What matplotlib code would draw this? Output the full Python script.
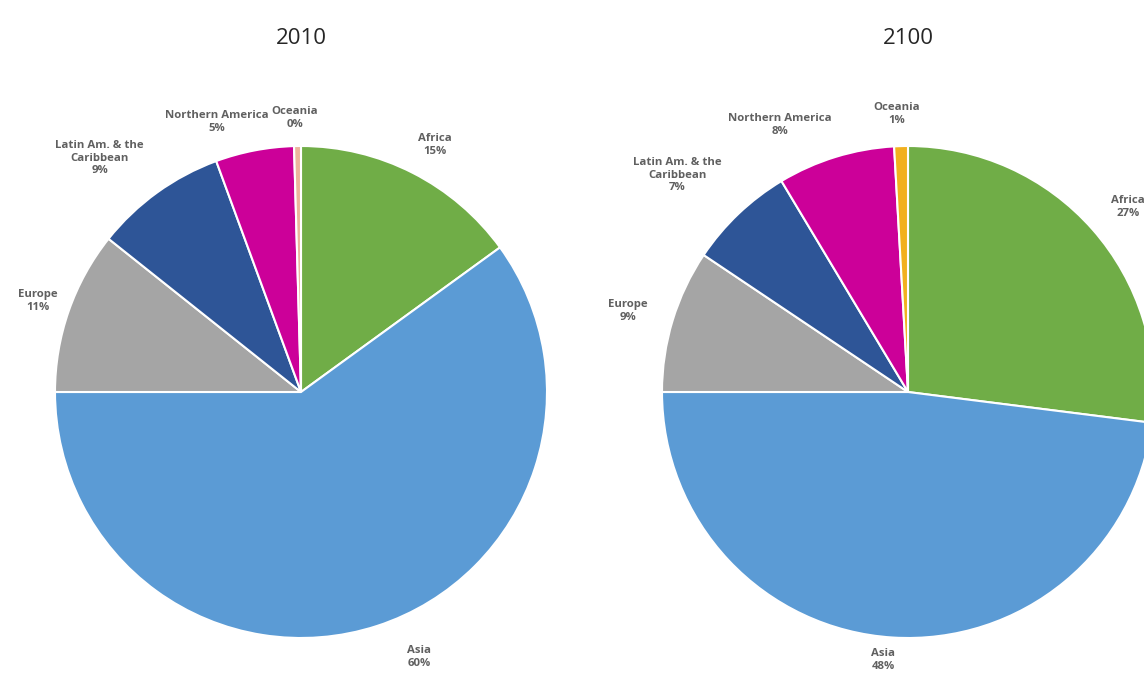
import matplotlib
matplotlib.use('Agg')
import matplotlib.pyplot as plt

regions = ['Africa', 'Asia', 'Europe', 'Latin Am. & the\nCaribbean',
           'Northern America', 'Oceania']
share_2010 = [15, 60, 10.7, 8.7, 5.15, 0.45]
share_2100 = [27, 48, 9.4, 7, 7.7, 0.9]

colors_2010 = ['#70AD47', '#5B9BD5', '#A5A5A5', '#2E5597', '#CC0099', '#EDB49C']
colors_2100 = ['#70AD47', '#5B9BD5', '#A5A5A5', '#2E5597', '#CC0099', '#F2B01E']

# label centres, in units of pie radius (layout only)
pos_2010 = [(0.545, 1.004), (0.48, -1.077), (-1.069, 0.37), (-0.819, 0.951),
            (-0.341, 1.098), (-0.024, 1.114)]
pos_2100 = [(0.894, 0.752), (-0.102, -1.089), (-1.138, 0.33), (-0.937, 0.882),
            (-0.52, 1.085), (-0.045, 1.13)]

W, H = 1144, 683
fig = plt.figure(figsize=(W / 100, H / 100), dpi=100)


def draw(cx, cy, r, title, values, colors, positions):
    ax = fig.add_axes([(cx - r) / W, (H - cy - r) / H, 2 * r / W, 2 * r / H])
    ax.pie(values, colors=colors, startangle=90, counterclock=False, radius=1,
           wedgeprops=dict(edgecolor='white', linewidth=1.5))
    ax.set_xlim(-1, 1)
    ax.set_ylim(-1, 1)
    ax.set_aspect('equal')
    total = sum(values)
    for name, v, (x, y) in zip(regions, values, positions):
        ax.text(x, y, '%s\n%.0f%%' % (name, 100 * v / total), ha='center', va='center',
                fontsize=8.2, fontweight='bold', family='Open Sans',
                color='#606060', linespacing=1.2)
    fig.text(cx / W, 1 - 38 / H, title, ha='center', va='center', fontsize=16,
             family='Open Sans', color='#262626')


draw(301, 392, 246, '2010', share_2010, colors_2010, pos_2010)
draw(908, 392, 246, '2100', share_2100, colors_2100, pos_2100)

fig.savefig('out.png', dpi=100)
